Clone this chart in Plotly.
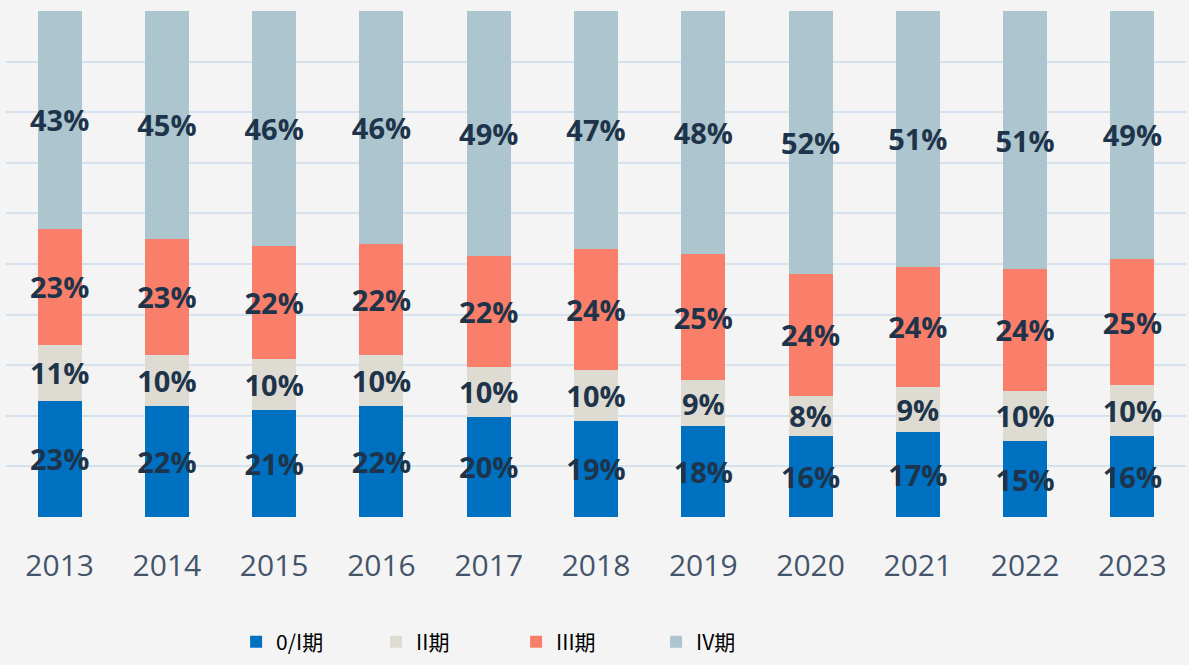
import plotly.graph_objects as go

# data (% share by stage)
years = ['2013', '2014', '2015', '2016', '2017', '2018', '2019', '2020', '2021', '2022', '2023']
stage_0_1 = [23, 22, 21, 22, 20, 19, 18, 16, 17, 15, 16]
stage_2 = [11, 10, 10, 10, 10, 10, 9, 8, 9, 10, 10]
stage_3 = [23, 23, 22, 22, 22, 24, 25, 24, 24, 24, 25]
stage_4 = [43, 45, 46, 46, 49, 47, 48, 52, 51, 51, 49]

series = [
    ('0/I期', stage_0_1, '#0070c0'),
    ('II期', stage_2, '#dedbd2'),
    ('III期', stage_3, '#fa7f6a'),
    ('IV期', stage_4, '#adc5cf'),
]

fig = go.Figure()
for name, vals, color in series:
    fig.add_trace(go.Bar(
        x=years, y=vals, name=name,
        marker=dict(color=color, line=dict(width=0)),
        text=[f'{v}%' for v in vals],
        textposition='inside', insidetextanchor='middle',
        textangle=0,
        textfont=dict(family='Open Sans', size=29, color='#1e344b', weight='bold'),
        hoverinfo='skip',
    ))

fig.update_layout(
    barmode='stack',
    barnorm='fraction',
    bargap=0.59,
    width=1189, height=665,
    margin=dict(l=6, r=3, t=11, b=147),
    paper_bgcolor='#f4f4f4',
    plot_bgcolor='#f4f4f4',
    uniformtext=dict(minsize=29, mode='show'),
    showlegend=True,
    legend=dict(
        orientation='h',
        x=0.195, y=-0.245, xanchor='left', yanchor='middle',
        font=dict(family='Noto Sans CJK SC', size=21, color='#000000'),
        entrywidth=95, entrywidthmode='pixels',
        traceorder='normal',
        bgcolor='rgba(0,0,0,0)',
    ),
)
fig.update_xaxes(
    showgrid=False, showline=False, zeroline=False,
    ticks='outside', ticklen=22, tickcolor='rgba(0,0,0,0)',
    tickfont=dict(family='Open Sans', size=30, color='#44546a'),
)
fig.update_yaxes(
    range=[0, 1], dtick=0.1, showticklabels=False,
    showgrid=True, gridcolor='#d5e1ec', gridwidth=2,
    zeroline=False, showline=False,
)

# page has a default 8px body margin; drop it so the figure sits at the window edge
fig.write_html('out.html', config={'displayModeBar': False},
               post_script="document.body.style.margin='0px';")
